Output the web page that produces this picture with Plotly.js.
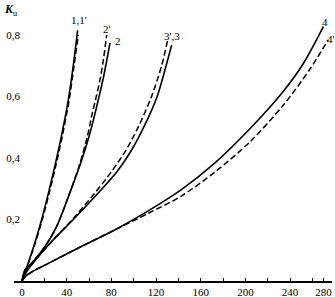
<!DOCTYPE html>
<html>
<head>
<meta charset="utf-8">
<script src="https://cdn.plot.ly/plotly-3.0.1.min.js"></script>
<style>html,body{margin:0;padding:0;background:#fff;}#chart{width:335px;height:297px;}</style>
</head>
<body>
<div id="chart"></div>
<script>
// Curve 1 and 1'
const x1 = [0, 5.7, 11.6, 17.6, 23.6, 29.5, 35.5, 41.5, 45.9, 49.8];
const y1 = [0, 0.06, 0.125, 0.2, 0.285, 0.375, 0.475, 0.59, 0.70, 0.815];
const x1p = [0, 6.0, 12.0, 18.2, 24.3, 30.3, 36.3, 42.3, 46.6, 50.4];
const y1p = [0, 0.06, 0.125, 0.2, 0.285, 0.375, 0.475, 0.59, 0.70, 0.80];
// Curve 2 (right) and 2' (left)
const x2 = [0, 2.7, 8.7, 20.6, 31, 41.5, 52.5, 60, 65.4, 69, 72.8, 75.5, 78.8];
const y2 = [0, 0.036, 0.058, 0.112, 0.177, 0.274, 0.383, 0.47, 0.545, 0.60, 0.66, 0.71, 0.774];
const x2p = [0, 2.7, 8.7, 20.6, 31, 41.5, 51.9, 58.5, 62.9, 66.5, 69.8, 72.5, 75.8];
const y2p = [0, 0.036, 0.058, 0.112, 0.177, 0.274, 0.383, 0.47, 0.545, 0.60, 0.654, 0.71, 0.80];
// Curve 3 (right) and 3' (left)
const x3 = [0, 4, 12, 27, 46, 68, 85, 98, 109, 121, 129, 134];
const y3 = [0, 0.03, 0.068, 0.13, 0.2, 0.285, 0.355, 0.425, 0.5, 0.6, 0.7, 0.767];
const x3p = [0, 4, 12, 27, 45, 65, 80, 93, 104, 116, 125, 130.4];
const y3p = [0, 0.03, 0.068, 0.13, 0.2, 0.285, 0.355, 0.425, 0.5, 0.6, 0.7, 0.784];
// Curve 4 (upper) and 4' (lower)
const x4 = [0, 3, 9, 24, 53, 83, 113, 143, 173, 204, 234, 252, 269.8];
const y4 = [0, 0.015, 0.03, 0.058, 0.112, 0.166, 0.228, 0.298, 0.385, 0.495, 0.617, 0.708, 0.827];
const x4p = [0, 3, 9, 24, 53, 83, 113, 143, 173, 204, 234, 258, 274];
const y4p = [0, 0.015, 0.03, 0.058, 0.112, 0.166, 0.22, 0.277, 0.355, 0.452, 0.572, 0.69, 0.784];

// Tick labels
const xTickVals = [0, 40, 80, 120, 160, 200, 240, 270];
const xTickText = ["0", "40", "80", "120", "160", "200", "240", "280"];
const yTickVals = [0.2, 0.4, 0.6, 0.8];
const yTickText = ["0,2", "0,4", "0,6", "0,8"];

// Curve labels
const labelText = ["1,1'", "2'", "2", "3',3", "4", "4'"];
const labelX = [51, 76, 85.5, 134, 271, 277];
const labelY = [0.849, 0.818, 0.779, 0.797, 0.842, 0.787];

const solid = {color: '#000', width: 1.6, shape: 'spline', smoothing: 0.8};
const dashed = {color: '#000', width: 1.5, shape: 'spline', smoothing: 0.8, dash: '6px,3px'};

const series = [
  [x1, y1, solid], [x1p, y1p, dashed],
  [x2, y2, solid], [x2p, y2p, dashed],
  [x3, y3, solid], [x3p, y3p, dashed],
  [x4, y4, solid], [x4p, y4p, dashed]
];
const traces = series.map(s => ({x: s[0], y: s[1], mode: 'lines', line: s[2], hoverinfo: 'skip', showlegend: false}));

const font = {family: 'Liberation Serif, Times New Roman, serif', size: 11, color: '#000'};

const annotations = labelText.map((t, i) => ({
  x: labelX[i], y: labelY[i], xref: 'x', yref: 'y', text: t, showarrow: false,
  font: {family: font.family, size: 11, color: '#000'}, xanchor: 'center', yanchor: 'middle'
}));
annotations.push({
  xref: 'paper', yref: 'paper', x: -0.01, y: 1.0, xanchor: 'center', yanchor: 'middle',
  text: '<i><b>K</b></i><sub>u</sub>', showarrow: false,
  font: {family: font.family, size: 12, color: '#000'}
});

const layout = {
  width: 335, height: 297,
  margin: {l: 14, r: 3, t: 10, b: 16, pad: 0},
  paper_bgcolor: '#fff', plot_bgcolor: '#fff',
  font: font,
  xaxis: {
    range: [-7.16, 277.5], tickvals: xTickVals, ticktext: xTickText,
    showgrid: false, zeroline: false, showline: true, linecolor: '#000', linewidth: 2,
    ticks: 'inside', ticklen: 3, tickcolor: '#000', tickwidth: 1,
    minor: {dtick: 20, tick0: 0, ticks: 'inside', ticklen: 3, tickcolor: '#000', showgrid: false},
    tickfont: font, fixedrange: true
  },
  yaxis: {
    range: [0, 0.881], tickvals: yTickVals, ticktext: yTickText,
    showgrid: false, zeroline: false, showline: false, ticks: '',
    ticklabelstandoff: -7,
    tickfont: font, fixedrange: true
  },
  annotations: annotations,
  showlegend: false
};

Plotly.newPlot('chart', traces, layout, {displayModeBar: false, staticPlot: true});
</script>
</body>
</html>
